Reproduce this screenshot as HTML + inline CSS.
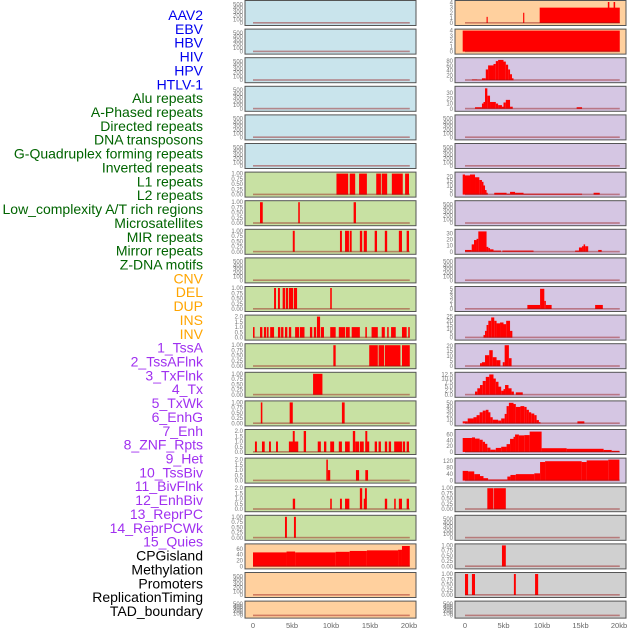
<!DOCTYPE html>
<html><head><meta charset="utf-8"><style>
html,body{margin:0;padding:0;background:#fff;}
svg{display:block;font-family:"Liberation Sans",sans-serif;}
</style></head><body>
<svg id="chart" width="630" height="630" viewBox="0 0 630 630" xmlns="http://www.w3.org/2000/svg"></svg>
<script>
const rowLabels = ["AAV2","EBV","HBV","HIV","HPV","HTLV-1","Alu repeats","A-Phased repeats","Directed repeats","DNA transposons","G-Quadruplex forming repeats","Inverted repeats","L1 repeats","L2 repeats","Low_complexity A/T rich regions","Microsatellites","MIR repeats","Mirror repeats","Z-DNA motifs","CNV","DEL","DUP","INS","INV","1_TssA","2_TssAFlnk","3_TxFlnk","4_Tx","5_TxWk","6_EnhG","7_Enh","8_ZNF_Rpts","9_Het","10_TssBiv","11_BivFlnk","12_EnhBiv","13_ReprPC","14_ReprPCWk","15_Quies","CPGisland","Methylation","Promoters","ReplicationTiming","TAD_boundary"];
const labelGroups = [6,13,5,15,5];
const xTicks = [0,5,10,15,20];
const xTickLabels = ["0","5kb","10kb","15kb","20kb"];
const E=["0","100","200","300","400","500"], Q=["0.00","0.25","0.50","0.75","1.00"], H=["0.0","0.5","1.0","1.5","2.0"];
const leftTicks = [E,E,E,E,E,E,Q,Q,Q,E,Q,H,Q,Q,Q,H,H,H,Q,["0","20","40","60"],E,E];
const leftMax = [560,560,560,560,560,560,1,1,1,560,1,2,1,1,1,2,2,2,1,72,560,560];
const rightTicks = [["0","1","2","3","4"],["0","1","2","3","4"],["0","20","40","60","80"],["0","10","20","30"],E,E,["0","5","10","15","20"],E,["0","10","20","30"],E,["0","1","2","3","4","5"],["0","5","10","15","20","25"],["0","5","10","15","20"],["0.0","2.5","5.0","7.5","10.0","12.5"],["0","10","20","30","40","50"],["0","20","40","60"],["0","40","80","120"],Q,E,Q,Q,E];
const rightMax = [4.1,4,88,40,560,560,23,560,34,560,5.2,25,21,12.9,51,72,130,1,560,1,1,560];
const leftSegments = [
 [],[],[],[],[],[],
 [[10.7,12.2,1],[12.4,13.1,1],[13.6,14.6,1],[15.8,16.4,1],[16.5,17.2,1],[17.8,19.2,1],[19.5,20,1]],
 [[0.9,1.25,1],[5.8,6.0,1],[12.9,13.2,1]],
 [[5.1,5.35,1],[11.15,11.4,1],[11.8,12.3,1],[12.4,12.65,1],[13.7,14.0,1],[14.2,14.6,1],[15.6,15.9,1],[16.9,17.2,1],[18.7,19.1,1],[19.7,20,1]],
 [],
 [[2.7,2.95,1],[3.2,3.45,1],[3.8,4.1,1],[4.2,4.5,1],[4.6,5.15,1],[5.25,5.65,1],[9.9,10.1,1]],
 [[0,0.2,1],[0.9,1.2,1],[1.4,1.7,1],[1.8,2.0,1],[2.2,2.7,1],[3.2,3.5,1],[3.6,3.9,1],[4.1,4.4,1],[4.6,4.9,1],[5.4,5.9,1],[6.0,6.6,1],[7.3,7.6,1],[7.8,8.1,1],[8.2,8.6,2],[8.7,9.1,1],[9.9,10.6,1],[11.0,11.8,1],[11.9,12.4,1],[12.65,13.7,1],[14.4,14.6,1],[15.2,16.0,1],[16.5,16.9,1],[17.2,17.4,1],[17.7,18.3,1],[19.1,19.7,1],[19.9,20.1,1]],
 [[10.3,10.6,1],[14.9,16.0,1],[16.1,16.8,1],[16.9,18.9,1],[19.1,20.1,1]],
 [[7.7,8.9,1]],
 [[1.0,1.2,1],[4.7,5.1,1],[11.4,11.75,1]],
 [[0.25,0.5,1],[1.15,1.5,1],[2.05,2.3,1],[2.95,3.2,1],[4.6,5.8,1],[5.1,5.35,2],[6.5,6.8,2],[8.3,8.7,1],[9.1,9.4,1],[9.9,10.4,1],[11.0,11.4,1],[11.8,12.4,1],[12.8,13.1,2],[13.1,13.6,1],[13.7,14.2,1],[14.4,14.9,1],[14.4,14.65,2],[15.6,15.9,1],[16.1,16.4,1],[16.9,17.2,1],[17.4,17.7,1],[18.1,19.1,1],[19.2,19.5,1],[19.7,20,1]],
 [[9.4,9.6,2],[9.6,9.9,1],[13.2,13.6,1],[14.4,14.75,1]],
 [[5.1,5.4,1],[9.9,10.1,1],[11.15,11.4,1],[11.8,12.35,1],[13.7,14.0,2],[14.2,14.5,1],[14.35,14.6,2],[16.9,17.2,1],[18.1,18.3,1],[18.7,19.1,1],[19.7,20.0,1]],
 [[4.1,4.35,1],[5.25,5.5,1]],
 [[0,4.3,48],[4.3,5.4,51],[5.4,10.6,48],[10.6,12.4,50],[12.4,14.6,53],[14.6,18.6,55],[18.6,19.1,57],[19.1,20.1,70]],
 [],[]
];
const rightSegments = [
 [[2.8,2.95,1.2],[7.55,7.7,2],[9.7,20.1,3],[18.55,18.75,4.1],[19.3,19.5,4.1]],
 [[-0.3,20.1,4]],
 [[0.9,1.6,3],[1.6,2.2,2],[2.2,2.7,8],[2.7,3.0,45],[3.0,3.7,62],[3.7,4.0,68],[4.0,4.3,80],[4.3,5.0,85],[5.0,5.3,78],[5.3,5.6,65],[5.6,5.85,45],[5.85,6.1,25],[6.1,6.3,8]],
 [[1.3,2.2,3],[2.2,2.4,10],[2.4,2.6,13],[2.6,2.9,39],[2.9,3.25,25],[3.25,4.0,13],[4.0,4.3,10],[4.3,4.8,7],[4.8,5.0,4],[5.0,5.3,12],[5.3,5.85,17],[5.85,6.2,4],[14.5,15.2,3]],
 [],[],
 [[-0.3,0,22],[0,0.65,21],[0.65,1.3,22],[1.3,1.86,19],[1.86,2.2,16],[2.2,2.4,14],[2.4,2.6,10],[2.6,2.8,5],[2.8,2.95,2],[3.8,5.4,2],[5.4,5.85,1],[5.85,6.5,3],[6.5,7.6,2],[7.6,15.2,1],[16.7,17.5,2]],
 [],
 [[0,0.87,3],[0.87,1.17,12],[1.17,1.5,19],[1.5,1.73,21],[1.73,2.8,33],[2.8,3.03,8],[3.03,3.25,6],[3.25,3.7,4],[3.7,4.68,2],[4.85,8.9,2],[14.3,14.8,2],[14.8,15.2,7],[15.2,15.4,9],[15.4,15.6,12],[15.6,16.0,9],[17.3,17.75,3]],
 [],
 [[8.1,9.75,1],[9.75,10.3,5],[10.3,10.5,2],[10.5,11.25,1],[16.9,17.9,1]],
 [[2.4,2.6,3],[2.6,2.8,8],[2.8,3.03,15],[3.03,3.4,20],[3.4,3.8,24],[3.8,4.1,20],[4.1,4.55,17],[4.55,5.0,18],[5.0,5.35,16],[5.35,5.85,20],[5.85,6.15,8]],
 [[1.95,2.2,3],[2.2,2.6,4],[2.6,3.15,11],[3.15,3.6,16],[3.6,4.1,9],[4.1,4.6,6],[4.9,5.15,4],[5.15,5.7,21],[5.7,6.05,8]],
 [[1.3,1.6,2],[1.6,1.95,4],[1.95,2.3,6],[2.3,2.7,8.5],[2.7,3.15,11],[3.15,3.7,12.5],[3.7,4.0,10],[4.0,4.35,8],[4.35,4.7,5],[4.7,5.0,2.5],[5.0,5.2,3.5],[5.2,5.65,6],[5.65,6.05,4],[6.05,6.35,2],[6.6,7.5,1.5]],
 [[-0.3,0.35,5],[0.35,1.1,12],[1.1,1.5,15],[1.5,1.9,20],[1.9,2.3,27],[2.3,2.7,31],[2.7,3.05,33],[3.05,3.3,27],[3.3,3.6,15],[3.6,4.3,9],[4.3,4.7,7],[4.7,5.15,12],[5.15,5.4,23],[5.4,5.7,42],[5.7,6.3,50],[6.3,6.6,47],[6.6,7.2,40],[7.2,7.7,42],[7.7,8.0,40],[8.0,8.3,33],[8.3,8.6,27],[8.6,9.0,24],[9.0,9.3,20],[9.3,9.6,8],[9.6,9.8,3],[14.6,15.5,5]],
 [[-0.3,0.9,48],[0.9,1.3,50],[1.3,1.9,46],[1.9,2.3,42],[2.3,2.6,35],[2.6,2.9,28],[2.9,3.3,15],[3.3,4.0,8],[4.0,4.7,14],[4.7,5.4,18],[5.4,5.85,27],[5.85,6.3,45],[6.3,6.5,52],[6.5,7.0,60],[7.0,7.7,57],[7.7,8.4,58],[8.4,9.95,70],[9.95,13.2,13],[13.2,18.0,11],[18.0,19.05,7],[19.05,20.05,4]],
 [[-0.3,0.4,60],[0.4,1.2,57],[1.2,1.95,40],[1.95,2.4,28],[2.4,3.0,15],[3.0,5.5,7],[5.5,5.9,25],[5.9,6.6,35],[6.6,9.0,40],[9.0,9.75,45],[9.75,10.4,115],[10.4,15.15,120],[15.15,15.8,115],[15.8,18.6,125],[18.6,20.05,130]],
 [[2.9,3.7,1],[3.77,5.3,1]],
 [],
 [[4.8,5.3,1]],
 [[0.0,0.4,1],[0.9,1.3,1],[6.35,6.6,1],[9.1,9.5,1]],
 []
];
const leftBg = i => i<6?'#c9e4ec':(i<19?'#c8e1a3':'#ffd09e');
const rightBg = i => i<2?'#ffd09e':(i<17?'#d5c6e3':'#d0d0d0');
const NS='http://www.w3.org/2000/svg';
const svg=document.getElementById('chart');
function mk(tag,attrs,parent){const e=document.createElementNS(NS,tag);for(const k in attrs)e.setAttribute(k,attrs[k]);(parent||svg).appendChild(e);return e;}
const cols=[{x0:245,x1:416,ox:253,k:7.8,bg:leftBg,segs:leftSegments,ticks:leftTicks,max:leftMax,side:'left'},
            {x0:455,x1:626,ox:465,k:7.7,bg:rightBg,segs:rightSegments,ticks:rightTicks,max:rightMax,side:'right'}];
cols.forEach(c=>{
  const xs=kb=>c.ox+kb*c.k;
  for(let i=0;i<22;i++){
    const top=i*28.6+0.5, h=(i===21?17:25);
    const g=mk('g',{});
    
    
    const bg=mk('rect',{x:c.x0,y:top,width:c.x1-c.x0,height:h,fill:c.bg(i),stroke:'#555','stroke-width':1},g);
    
    
    const yb=top+h-2.5, yt=top+1.5;
    const ys=v=>yb-(v/c.max[i])*(yb-yt);
    c.segs[i].forEach(s=>{
      const x1=Math.max(xs(s[0]),c.x0+0.5), x2=Math.min(xs(s[1]),c.x1-0.5);
      const r=mk('rect',{x:x1,y:ys(s[2]),width:Math.max(x2-x1,1),height:yb-ys(s[2]),fill:'#ff0000'},g);
      
      
    });
    const bl=mk('rect',{x:xs(0),y:yb-1,width:xs(20.1)-xs(0),height:1.6,fill:'rgba(150,20,20,0.45)'},g);
    
    
    c.ticks[i].forEach(t=>{
      const tx=mk('text',{x:c.x0-2,y:ys(parseFloat(t))+2,'font-size':6,fill:'#777','text-anchor':'end'},g);
      tx.textContent=t;
      
      
    });
  }
  xTicks.forEach((t,j)=>{
    const tx=mk('text',{x:xs(t),y:628,'font-size':7.5,fill:'#666','text-anchor':'middle'});
    tx.textContent=xTickLabels[j];
    
    
  });
});
const colors=['#0000ee','#006400','#ffa500','#a030f0','#000000'];
let idx=0;
labelGroups.forEach((n,gi)=>{
  for(let j=0;j<n;j++){
    const t=mk('text',{x:203,y:15+idx*13.86+5,'font-size':14,fill:colors[gi],'text-anchor':'end'});
    t.textContent=rowLabels[idx];
    
    
    idx++;
  }
});
</script>
</body></html>
